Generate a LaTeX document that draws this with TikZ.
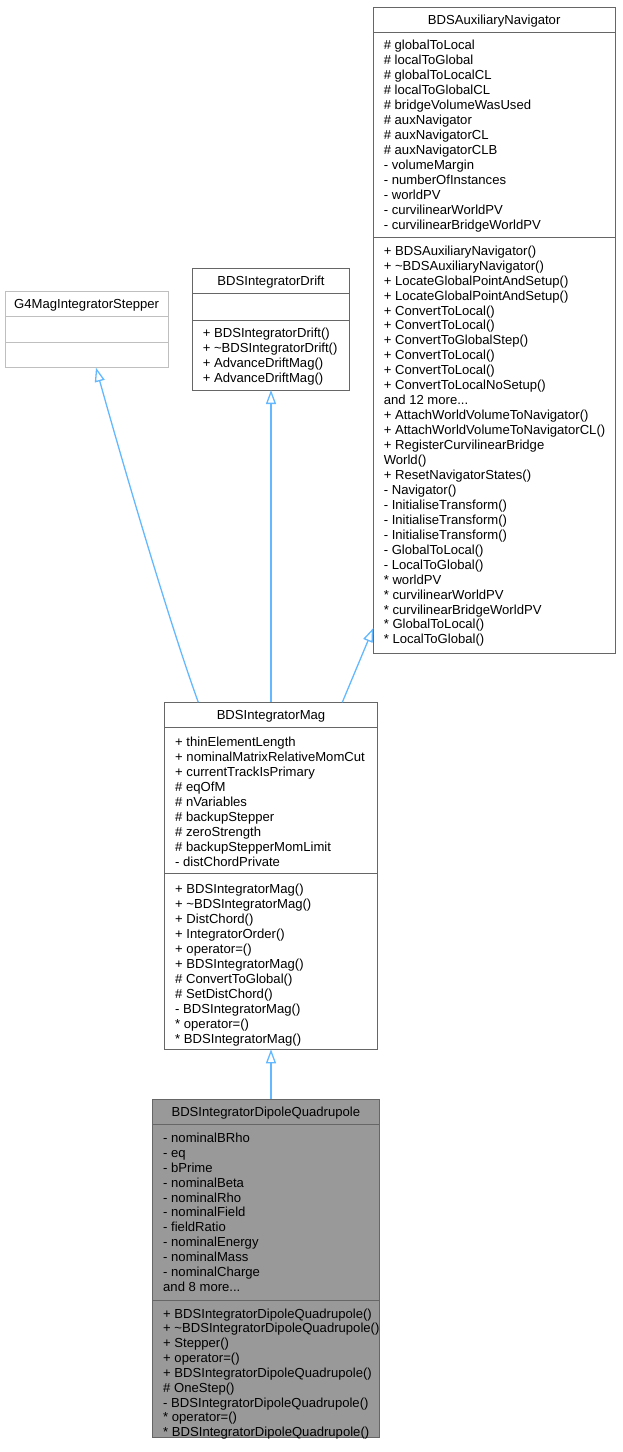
\documentclass[tikz,border=0pt]{standalone}
\usepackage{fontspec}
\setmainfont{Liberation Sans}
\usetikzlibrary{arrows.meta,calc}
\definecolor{edgeblue}{HTML}{63B8FF}
\definecolor{boxgray}{HTML}{666666}
\definecolor{extgray}{HTML}{BFBFBF}
\definecolor{hlfill}{HTML}{999999}
\newcommand{\mydots}{...}
\begin{document}
\begin{tikzpicture}[x=1pt,y=-1pt,
  box/.style={draw=boxgray, line width=1pt, inner sep=0pt, outer sep=0pt},
  sepline/.style={draw=boxgray, line width=1pt},
  extsep/.style={draw=extgray, line width=1pt},
  member/.style={anchor=base west, inner sep=0pt, outer sep=0pt, font=\fontsize{13.1}{15}\selectfont},
  ttl/.style={anchor=base, inner sep=0pt, outer sep=0pt, font=\fontsize{13.1}{15}\selectfont},
  edge/.style={draw=edgeblue, line width=1.3pt, -{Triangle[open, length=14pt, width=10pt]}}
]
\useasboundingbox (0,0) rectangle (622,1452);

% ---------- BDSAuxiliaryNavigator ----------
\node[box, minimum width=241.7pt, minimum height=646pt] (aux) at (494.15,330) {};
\draw[sepline] ([yshift=-25pt]aux.north west) -- ([yshift=-25pt]aux.north east);
\draw[sepline] ([yshift=-230.3pt]aux.north west) -- ([yshift=-230.3pt]aux.north east);
\node[ttl] (auxt) at (494.15,24.3) {BDSAuxiliaryNavigator};
\foreach \t [count=\i] in {{\# globalToLocal},{\# localToGlobal},{\# globalToLocalCL},{\# localToGlobalCL},{\# bridgeVolumeWasUsed},{\# auxNavigator},{\# auxNavigatorCL},{\# auxNavigatorCLB},{- volumeMargin},{- numberOfInstances},{- worldPV},{- curvilinearWorldPV},{- curvilinearBridgeWorldPV}}
  \node[member] (auxa\i) at (383.8,{49.6+(\i-1)*14.95}) {\t};
\foreach \t [count=\i] in {{+ BDSAuxiliaryNavigator()},{+ \textasciitilde BDSAuxiliaryNavigator()},{+ LocateGlobalPointAndSetup()},{+ LocateGlobalPointAndSetup()},{+ ConvertToLocal()},{+ ConvertToLocal()},{+ ConvertToGlobalStep()},{+ ConvertToLocal()},{+ ConvertToLocal()},{+ ConvertToLocalNoSetup()},{and 12 more\mydots},{+ AttachWorldVolumeToNavigator()},{+ AttachWorldVolumeToNavigatorCL()},{+ RegisterCurvilinearBridge},{World()},{+ ResetNavigatorStates()},{- Navigator()},{- InitialiseTransform()},{- InitialiseTransform()},{- InitialiseTransform()},{- GlobalToLocal()},{- LocalToGlobal()},{* worldPV},{* curvilinearWorldPV},{* curvilinearBridgeWorldPV},{* GlobalToLocal()},{* LocalToGlobal()}}
  \node[member] (auxm\i) at (383.8,{255.2+(\i-1)*14.95}) {\t};

% ---------- BDSIntegratorDrift ----------
\node[box, minimum width=157.4pt, minimum height=121.7pt] (drift) at (271,329.15) {};
\draw[sepline] ([yshift=-25.4pt]drift.north west) -- ([yshift=-25.4pt]drift.north east);
\draw[sepline] ([yshift=-52pt]drift.north west) -- ([yshift=-52pt]drift.north east);
\node[ttl] (driftt) at (271,285.9) {BDSIntegratorDrift};
\foreach \t [count=\i] in {{+ BDSIntegratorDrift()},{+ \textasciitilde BDSIntegratorDrift()},{+ AdvanceDriftMag()},{+ AdvanceDriftMag()}}
  \node[member] (driftm\i) at (202.8,{337.4+(\i-1)*15.1}) {\t};

% ---------- G4MagIntegratorStepper ----------
\node[box, draw=extgray, minimum width=163.3pt, minimum height=76pt] (g4) at (86.65,329.7) {};
\draw[extsep] ([yshift=-25pt]g4.north west) -- ([yshift=-25pt]g4.north east);
\draw[extsep] ([yshift=-50.3pt]g4.north west) -- ([yshift=-50.3pt]g4.north east);
\node[ttl] (g4t) at (86.65,308.9) {G4MagIntegratorStepper};

% ---------- BDSIntegratorMag ----------
\node[box, minimum width=212.6pt, minimum height=347pt] (mag) at (271,875.8) {};
\draw[sepline] ([yshift=-25pt]mag.north west) -- ([yshift=-25pt]mag.north east);
\draw[sepline] ([yshift=-171pt]mag.north west) -- ([yshift=-171pt]mag.north east);
\node[ttl] (magt) at (271,719.5) {BDSIntegratorMag};
\foreach \t [count=\i] in {{+ thinElementLength},{+ nominalMatrixRelativeMomCut},{+ currentTrackIsPrimary},{\# eqOfM},{\# nVariables},{\# backupStepper},{\# zeroStrength},{\# backupStepperMomLimit},{- distChordPrivate}}
  \node[member] (maga\i) at (175.2,{746.4+(\i-1)*15}) {\t};
\foreach \t [count=\i] in {{+ BDSIntegratorMag()},{+ \textasciitilde BDSIntegratorMag()},{+ DistChord()},{+ IntegratorOrder()},{+ operator=()},{+ BDSIntegratorMag()},{\# ConvertToGlobal()},{\# SetDistChord()},{- BDSIntegratorMag()},{* operator=()},{* BDSIntegratorMag()}}
  \node[member] (magm\i) at (175.2,{893+(\i-1)*15}) {\t};

% ---------- BDSIntegratorDipoleQuadrupole ----------
\node[box, fill=hlfill, minimum width=226.3pt, minimum height=338pt] (dq) at (265.85,1268) {};
\draw[sepline] ([yshift=-25pt]dq.north west) -- ([yshift=-25pt]dq.north east);
\draw[sepline] ([yshift=-201.7pt]dq.north west) -- ([yshift=-201.7pt]dq.north east);
\node[ttl] (dqt) at (265.85,1116.2) {BDSIntegratorDipoleQuadrupole};
\foreach \t [count=\i] in {{- nominalBRho},{- eq},{- bPrime},{- nominalBeta},{- nominalRho},{- nominalField},{- fieldRatio},{- nominalEnergy},{- nominalMass},{- nominalCharge},{and 8 more\mydots}}
  \node[member] (dqa\i) at (163.2,{1142.4+(\i-1)*14.9}) {\t};
\foreach \t [count=\i] in {{+ BDSIntegratorDipoleQuadrupole()},{+ \textasciitilde BDSIntegratorDipoleQuadrupole()},{+ Stepper()},{+ operator=()},{+ BDSIntegratorDipoleQuadrupole()},{\# OneStep()},{- BDSIntegratorDipoleQuadrupole()},{* operator=()},{* BDSIntegratorDipoleQuadrupole()}}
  \node[member] (dqm\i) at (163.2,{1318+(\i-1)*14.85}) {\t};

% ---------- inheritance edges ----------
\draw[edge] (mag.north) -- (drift.south);
\draw[edge] (dq.north -| mag.south) -- (mag.south);
\draw[edge] ([xshift=177.6pt]mag.north west) -- ([yshift=25pt]aux.south west);
\draw[edge] ([xshift=33.6pt]mag.north west) .. controls +(-29,-80) and +(28,100) .. ([xshift=91pt]g4.south west);
\end{tikzpicture}
\end{document}
